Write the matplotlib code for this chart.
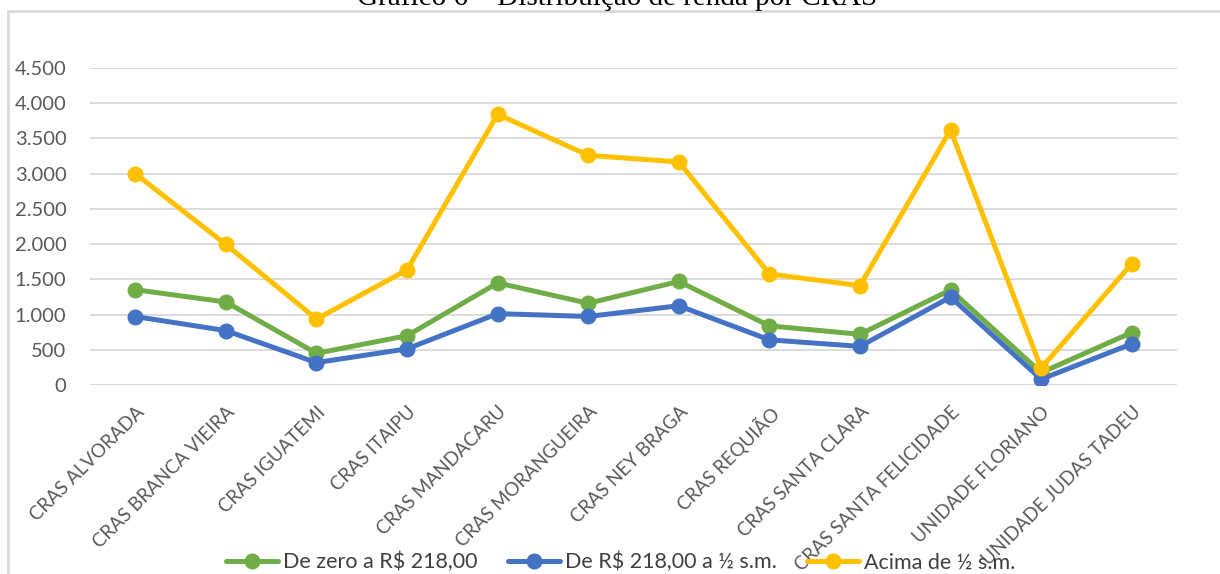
import matplotlib.pyplot as plt
from matplotlib.patches import Rectangle
from matplotlib.ticker import FuncFormatter

# dados
cras = ['CRAS ALVORADA', 'CRAS BRANCA VIEIRA', 'CRAS IGUATEMI', 'CRAS ITAIPU',
        'CRAS MANDACARU', 'CRAS MORANGUEIRA', 'CRAS NEY BRAGA', 'CRAS REQUIÃO',
        'CRAS SANTA CLARA', 'CRAS SANTA FELICIDADE', 'UNIDADE FLORIANO',
        'UNIDADE JUDAS TADEU']
ate_218 = [1353, 1178, 450, 700, 1449, 1160, 1470, 840, 720, 1350, 175, 745]
de_218_a_meio = [972, 772, 318, 513, 1013, 973, 1125, 641, 548, 1248, 82, 584]
acima_meio = [3000, 1995, 936, 1634, 3843, 3260, 3167, 1577, 1410, 3620, 238, 1722]

series = [
    ('De zero a R$ 218,00', ate_218, '#70AD47'),
    ('De R$ 218,00 a ½ s.m.', de_218_a_meio, '#4472C4'),
    ('Acima de ½ s.m.', acima_meio, '#FFC000'),
]

plt.rcParams['font.family'] = ['Lato', 'DejaVu Sans']

fig = plt.figure(figsize=(12.2, 5.74), dpi=100)
ax = fig.add_axes([90 / 1220, 1 - 385 / 574, 1087 / 1220, 317 / 574])

x = list(range(len(cras)))
for z, (nome, vals, cor) in enumerate(series):
    ax.plot(x, vals, color=cor, lw=3.6, marker='o', ms=10.5, label=nome,
            zorder=3 + z, solid_capstyle='round')

ax.set_xlim(-0.5, len(cras) - 0.5)
ax.set_ylim(0, 4500)
ax.set_yticks(range(0, 4501, 500))
ax.yaxis.set_major_formatter(FuncFormatter(lambda v, p: f'{int(v):,}'.replace(',', '.')))
ax.grid(axis='y', color='#D9D9D9', lw=1.3)
ax.set_axisbelow(True)
for s in ax.spines.values():
    s.set_visible(False)
ax.tick_params(length=0, colors='#595959', labelsize=14.5)
ax.tick_params(axis='y', pad=17)
ax.set_xticks(x)
ax.set_xticklabels(cras, rotation=45, ha='right', va='top',
                   rotation_mode='anchor', fontsize=13.5)
ax.tick_params(axis='x', pad=13)

leg = fig.legend(loc='center', bbox_to_anchor=(621 / 1220, 1 - 562 / 574), ncol=3,
                 frameon=False, fontsize=15.5, handlelength=2.4,
                 columnspacing=1.4, handletextpad=0.25, labelcolor='#404040')

# moldura do gráfico e título (cortado no topo)
fig.patches.append(Rectangle((8 / 1220, -0.05), 1.2, 1 - 11 / 574 + 0.05,
                             transform=fig.transFigure, fill=False,
                             ec='#D9D9D9', lw=2))
fig.text(617 / 1220, 1 - 5 / 574, 'Gráfico 6 – Distribuição de renda por CRAS',
         ha='center', va='baseline', fontsize=21, family='Liberation Serif')

fig.savefig('out.png', dpi=100)
